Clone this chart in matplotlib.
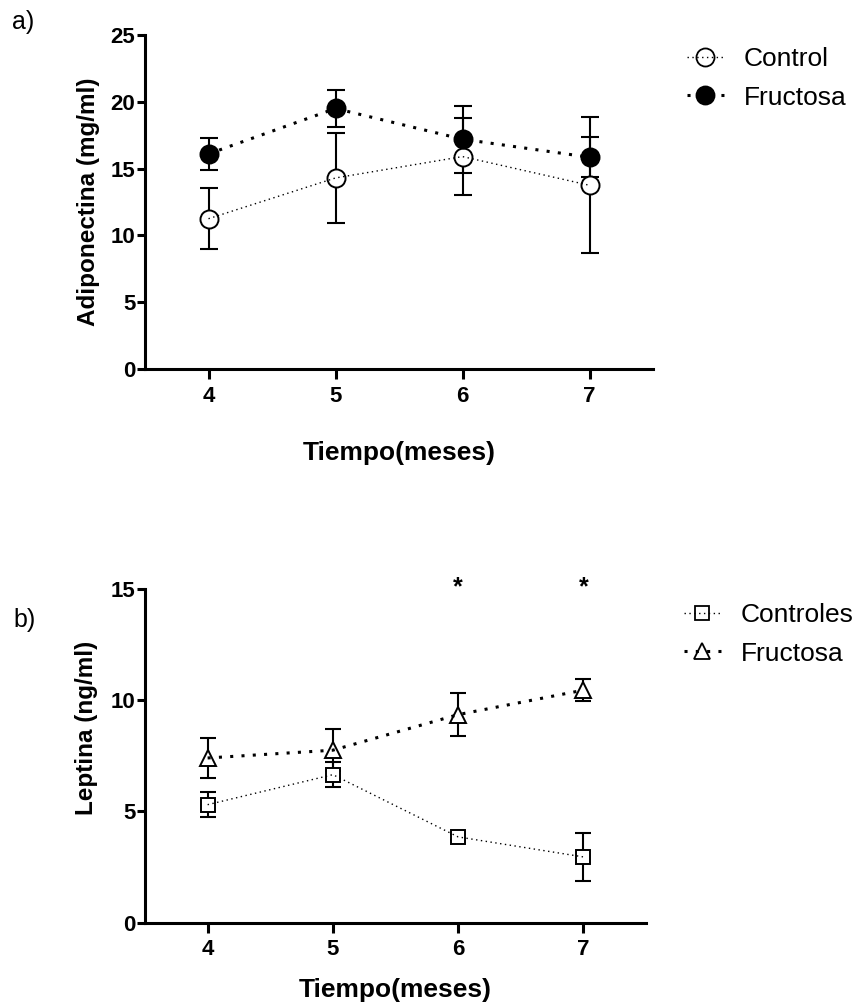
import matplotlib
matplotlib.use('Agg')
import matplotlib.pyplot as plt
from matplotlib.lines import Line2D

plt.rcParams['font.family'] = ['Liberation Sans', 'DejaVu Sans']

# datos
meses = [4, 5, 6, 7]

adipo_control = [11.25, 14.3, 15.9, 13.75]
adipo_control_err = [2.3, 3.35, 2.9, 5.1]
adipo_fructosa = [16.1, 19.5, 17.2, 15.85]
adipo_fructosa_err = [1.2, 1.4, 2.5, 1.5]

leptina_control = [5.3, 6.65, 3.85, 2.95]
leptina_control_err = [0.55, 0.55, 0.15, 1.07]
leptina_fructosa = [7.4, 7.75, 9.35, 10.45]
leptina_fructosa_err = [0.9, 0.95, 0.98, 0.5]

sig_meses = [6, 7]
sig_y = 14.75

# estilos de linea
thin_dots = (0, (1, 2.5))
thick_dots = (0, (1, 2.7))

W, H = 856, 1005
fig = plt.figure(figsize=(W / 100, H / 100), dpi=100)

def px_axes(l, t, r, b):
    return fig.add_axes([l / W, 1 - b / H, (r - l) / W, (b - t) / H])

ax1 = px_axes(145, 35, 653, 369)
ax2 = px_axes(145, 589, 646, 922.5)


def serie(ax, y, err, marker, ms, filled, ls, lw, capsize):
    ax.errorbar(meses, y, yerr=err, fmt='none', ecolor='k', elinewidth=1.5,
                capsize=capsize, capthick=1.5, zorder=2)
    ax.plot(meses, y, ls='none', marker=marker, ms=ms,
            mfc='k' if filled else 'white', mec='k', mew=1.4, zorder=3)
    ax.plot(meses, y, ls=ls, lw=lw, color='k', zorder=4)
    return Line2D([], [], ls=ls, lw=lw, color='k', marker=marker, ms=ms,
                  mfc='k' if filled else 'none', mec='k', mew=1.3)


def estilo(ax, ylim, yticks):
    for s in ['top', 'right']:
        ax.spines[s].set_visible(False)
    for s in ['left', 'bottom']:
        ax.spines[s].set_linewidth(2.2)
    ax.set_xlim(3.5, 7.5)
    ax.set_ylim(*ylim)
    ax.set_xticks(meses)
    ax.set_yticks(yticks)
    ax.tick_params(axis='y', length=6, width=2.2, pad=1, labelsize=16)
    ax.tick_params(axis='x', length=7, width=2.2, pad=5, labelsize=16)
    for lab in ax.get_xticklabels() + ax.get_yticklabels():
        lab.set_fontweight('bold')


leg_kw = dict(loc='upper left', frameon=False, fontsize=19, handlelength=1.4,
              handletextpad=0.75, labelspacing=0.55, borderpad=0, borderaxespad=0)

# a) adiponectina
h1 = serie(ax1, adipo_control, adipo_control_err, 'o', 13, False, thin_dots, 1.0, 6.5)
h2 = serie(ax1, adipo_fructosa, adipo_fructosa_err, 'o', 13, True, thick_dots, 2.2, 6.5)
estilo(ax1, (0, 25), [0, 5, 10, 15, 20, 25])
ax1.set_ylabel('Adiponectina (mg/ml)', fontsize=17.5, fontweight='bold')
ax1.set_xlabel('Tiempo(meses)', fontsize=19, fontweight='bold')
ax1.yaxis.set_label_coords(-0.088, 0.5)
ax1.xaxis.set_label_coords(0.5, -0.216)
fig.legend([h1, h2], ['Control', 'Fructosa'], bbox_to_anchor=(687 / W, 1 - 47 / H), **leg_kw)
fig.text(23 / W, 1 - 22 / H, 'a)', fontsize=18, ha='center', va='center')

# b) leptina
h3 = serie(ax2, leptina_control, leptina_control_err, 's', 10.5, False, thin_dots, 1.0, 6)
h4 = serie(ax2, leptina_fructosa, leptina_fructosa_err, '^', 12, False, thick_dots, 2.2, 6)
estilo(ax2, (0, 15), [0, 5, 10, 15])
ax2.set_ylabel('Leptina (ng/ml)', fontsize=17.5, fontweight='bold')
ax2.set_xlabel('Tiempo(meses)', fontsize=19, fontweight='bold')
ax2.yaxis.set_label_coords(-0.094, 0.583)
ax2.xaxis.set_label_coords(0.5, -0.166)
for xm in sig_meses:
    ax2.text(xm, sig_y, '*', fontsize=18, fontweight='bold', ha='center',
             va='baseline', clip_on=False)
fig.legend([h3, h4], ['Controles', 'Fructosa'], bbox_to_anchor=(684 / W, 1 - 603 / H), **leg_kw)
fig.text(25 / W, 1 - 620 / H, 'b)', fontsize=18, ha='center', va='center')

fig.savefig('out.png', dpi=100, facecolor='white')
